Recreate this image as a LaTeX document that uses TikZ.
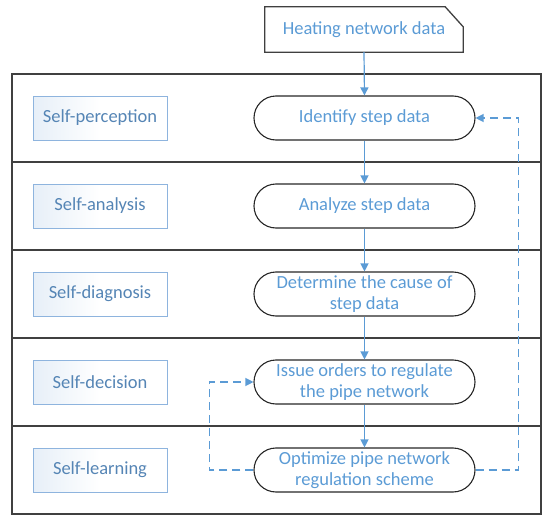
\documentclass[tikz,border=0pt]{standalone}
\usepackage{fontspec}
\setmainfont{Carlito}
\usetikzlibrary{arrows.meta,shapes.misc}
\definecolor{nodeblue}{HTML}{5B9BD5}
\definecolor{labtext}{HTML}{5585B5}
\definecolor{labborder}{HTML}{8EB4DE}
\definecolor{labfill}{HTML}{DCE8F5}
\definecolor{frame}{HTML}{404040}
\tikzset{
  stadium/.style={draw=black!85, line width=1.1pt, rounded corners=22pt,
    minimum width=221pt, minimum height=44pt, align=center,
    text=nodeblue, font=\fontsize{18.5}{21.5}\selectfont, inner sep=0pt},
  labbox/.style={draw=labborder, line width=1pt, left color=labfill!70, right color=white,
    middle color=white, minimum width=134pt, minimum height=44pt,
    text=labtext, font=\fontsize{18.5}{21.5}\selectfont, inner sep=0pt},
  flow/.style={draw=nodeblue, line width=1.2pt, -{Triangle[width=8pt,length=8pt]}},
  feedback/.style={draw=nodeblue, line width=1.2pt, dash pattern=on 8pt off 5pt,
    -{Triangle[width=8pt,length=8pt]}},
  rowline/.style={draw=frame, line width=1.4pt}
}
\begin{document}
\begin{tikzpicture}[x=1pt,y=-1pt]
\useasboundingbox (0,0) rectangle (550,522);
% frame and row dividers
\draw[rowline] (12,74) rectangle (541,514);
\foreach \yy in {162,250,338,426} \draw[rowline] (12,\yy) -- (541,\yy);
% input document
\node[text=nodeblue, font=\fontsize{18.5}{21.5}\selectfont, minimum width=198pt, minimum height=45pt, inner sep=0pt] (hnd) at (364,29.5) {Heating network data};
\draw[draw=frame, line width=1.3pt] (hnd.south west) -- (hnd.north west) -- ([xshift=-18pt]hnd.north east) -- ([yshift=-20pt]hnd.north east) -- (hnd.south east) -- cycle;
% left labels
\node[labbox] (l1) at (100,118) {Self-perception};
\node[labbox] (l2) at (100,206) {Self-analysis};
\node[labbox] (l3) at (100,294) {Self-diagnosis};
\node[labbox] (l4) at (100,382) {Self-decision};
\node[labbox] (l5) at (100,470) {Self-learning};
% process nodes
\node[stadium] (n1) at (364.5,118) {Identify step data};
\node[stadium] (n2) at (364.5,206) {Analyze step data};
\node[stadium] (n3) at (364.5,294) {Determine the cause of\\step data};
\node[stadium] (n4) at (364.5,382) {Issue orders to regulate\\the pipe network};
\node[stadium] (n5) at (364.5,470) {Optimize pipe network\\regulation scheme};
% flow
\draw[flow] (hnd.south) -- (n1.north);
\draw[flow] (n1) -- (n2);
\draw[flow] (n2) -- (n3);
\draw[flow] (n3) -- (n4);
\draw[flow] (n4) -- (n5);
% feedback
\draw[feedback] (n5.east) -- ++(43,0) |- (n1.east);
\draw[feedback] (n5.west) -- ++(-44,0) |- (n4.west);
\end{tikzpicture}
\end{document}
